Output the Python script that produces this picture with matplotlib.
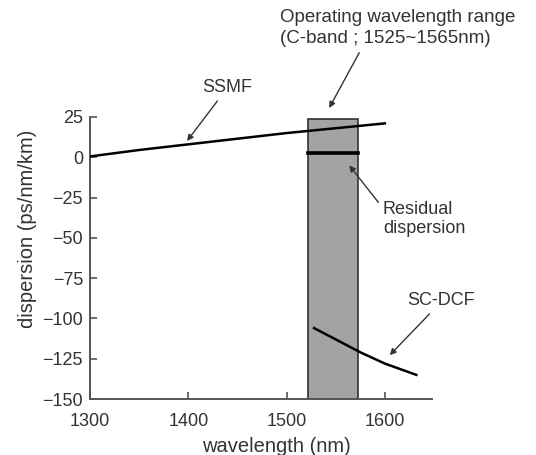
import matplotlib
matplotlib.use("Agg")
import matplotlib.pyplot as plt
from matplotlib.patches import Rectangle

plt.rcParams['font.family'] = ['Liberation Sans', 'DejaVu Sans']

# data
ssmf_wl = [1300, 1350, 1400, 1450, 1500, 1550, 1600]
ssmf_disp = [0.5, 4.5, 8.0, 11.5, 15.0, 18.0, 21.0]

dcf_wl = [1528, 1550, 1575, 1600, 1632]
dcf_disp = [-106, -113, -121, -128, -135]

band_lo, band_hi = 1522, 1573
band_top = 24
residual = 2.5

xticks = [1300, 1400, 1500, 1600]
yticks = [25, 0, -25, -50, -75, -100, -125, -150]

fig = plt.figure(figsize=(5.36, 4.55), dpi=100)
ax = fig.add_axes([0.168, 0.123, 0.638, 0.620])

txt = '#333333'
fs = 13

ax.add_patch(Rectangle((band_lo, -150), band_hi - band_lo, band_top + 150,
                       facecolor='#a3a3a3', edgecolor='#333333', lw=1.2, zorder=1))
ax.plot(ssmf_wl, ssmf_disp, color='black', lw=1.8, zorder=3)
ax.plot([band_lo, band_hi], [residual, residual], color='black', lw=2.6, zorder=3)
ax.plot(dcf_wl, dcf_disp, color='black', lw=1.8, zorder=3)

ax.set_xlim(1300, 1648)
ax.set_ylim(-150, 25)
ax.set_xticks(xticks)
ax.set_yticks(yticks)
ax.set_yticklabels([str(t).replace('-', '\u2212') for t in yticks])
for s in ['top', 'right']:
    ax.spines[s].set_visible(False)
for s in ['left', 'bottom']:
    ax.spines[s].set_color('#555555')
    ax.spines[s].set_linewidth(1.4)
ax.tick_params(direction='in', length=5, width=1.2, color='#555555',
               labelsize=fs, labelcolor=txt)
ax.tick_params(axis='x', pad=10)
ax.tick_params(axis='y', pad=5)
ax.set_xlabel('wavelength (nm)', fontsize=14.5, color=txt, labelpad=5)
ax.set_ylabel('dispersion (ps/nm/km)', fontsize=14.5, color=txt, labelpad=4)
ax.xaxis.label.set_x(0.544)
ax.yaxis.label.set_y(0.603)

arrow = dict(arrowstyle='-|>', color='#333333', lw=1.0, mutation_scale=9)
ax.annotate('SSMF', xy=(1397, 8.7), xytext=(1440, 38), fontsize=fs, color=txt,
            ha='center', va='bottom', arrowprops=arrow, annotation_clip=False)
ax.annotate('Operating wavelength range\n(C-band ; 1525~1565nm)',
            xy=(1542, 29), xytext=(1493, 92), fontsize=13.5, color=txt,
            ha='left', va='top', linespacing=1.35,
            arrowprops=dict(arrow, relpos=(0.35, 0)), annotation_clip=False)
ax.annotate('Residual\ndispersion', xy=(1562, -3.7), xytext=(1598, -27),
            fontsize=fs, color=txt, ha='left', va='top', linespacing=1.2,
            arrowprops=dict(arrow, relpos=(0, 0.8)), annotation_clip=False)
ax.annotate('SC-DCF', xy=(1603, -124), xytext=(1657, -89), fontsize=fs,
            color=txt, ha='center', va='center',
            arrowprops=dict(arrow, relpos=(0.4, 0)), annotation_clip=False)

fig.savefig('out.png', dpi=100)
